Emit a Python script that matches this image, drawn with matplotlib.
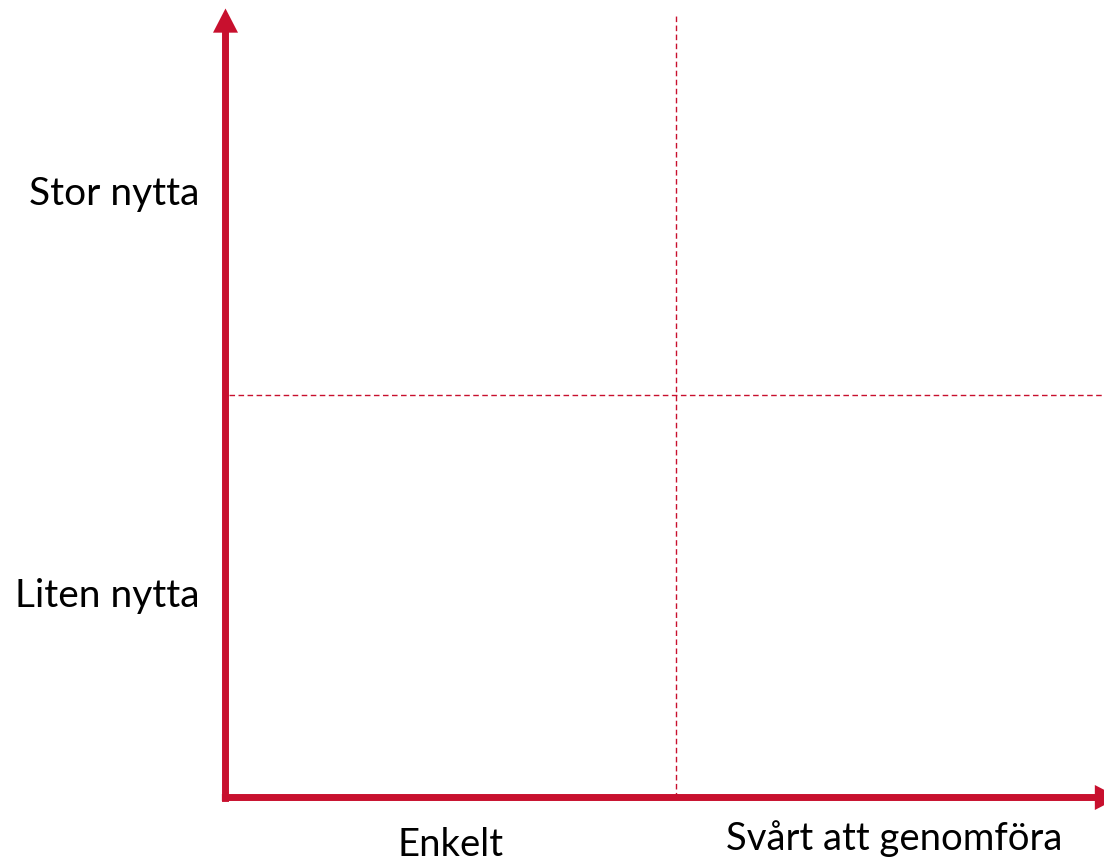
import matplotlib
matplotlib.use("Agg")
import matplotlib.pyplot as plt
from matplotlib.patches import FancyArrowPatch
from matplotlib.transforms import blended_transform_factory

RED = "#C8102E"

# quadrant chart: x = ease of doing (0..2), y = benefit (0..2)
x_labels = ["Enkelt", "Svårt att genomföra"]
x_label_pos = [0.50, 1.485]
y_labels = ["Liten nytta", "Stor nytta"]
y_label_pos = [0.50, 1.50]
split_x = 1.0
split_y = 1.0

fig = plt.figure(figsize=(11.04, 8.65), dpi=100)
W, H = 1104, 865
ox, oy = 225.5, 797.5
ux, uy = 450.5, 402.5
xmax, ymax = (W - ox) / ux, (oy - 8.5) / uy
ax = fig.add_axes([ox / W, (H - oy) / H, (W - ox) / W, ymax * uy / H])
ax.set_xlim(0, xmax)
ax.set_ylim(0, ymax)
ax.axis("off")

# dashed quadrant splits
ax.plot([split_x, split_x], [0, 1.95], color=RED, lw=1.0, ls=(0, (4, 2.5)))
ax.plot([0.008, xmax], [split_y, split_y], color=RED, lw=1.0, ls=(0, (4, 2.5)))

# axis arrows
style = "simple,head_width=0.9,head_length=0.87,tail_width=0.25"
ax.add_patch(FancyArrowPatch((0, -0.011), (0, ymax), arrowstyle=style,
                             mutation_scale=20, color=RED, lw=0,
                             shrinkA=0, shrinkB=0, clip_on=False))
ax.add_patch(FancyArrowPatch((-0.008, 0), ((1119 - ox) / ux, 0), arrowstyle=style,
                             mutation_scale=20, color=RED, lw=0,
                             shrinkA=0, shrinkB=0, clip_on=False))

font = "Lato"
for lab, y in zip(y_labels, y_label_pos):
    ax.annotate(lab, (0, y), xytext=(-19, 0), textcoords="offset points",
                ha="right", va="center", fontsize=28, family=font)

tr = blended_transform_factory(ax.transData, fig.transFigure)
for lab, x, yb in zip(x_labels, x_label_pos, [856, 850]):
    ax.text(x, (H - yb) / H, lab, transform=tr, ha="center", va="baseline",
            fontsize=27.5, family=font)

fig.savefig("out.png", dpi=100)
